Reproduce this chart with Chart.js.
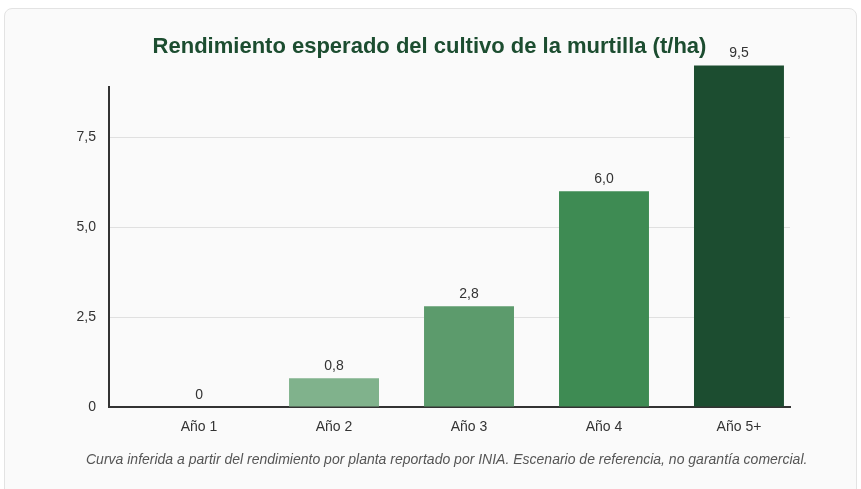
<!DOCTYPE html>
<html>
<head>
<meta charset="utf-8">
<script src="https://cdn.jsdelivr.net/npm/chart.js@4"></script>
<style>
  html, body { margin: 0; padding: 0; background: #fff; }
  body { width: 861px; height: 489px; position: relative; overflow: hidden; font-family: "Liberation Sans", Arial, sans-serif; }
  .card {
    position: absolute; left: 4px; top: 8px; width: 851px; height: 500px;
    border: 1px solid #e3e3e3; border-radius: 8px; background: #fafafa;
  }
  #wrap { position: absolute; left: 0; top: 0; width: 861px; height: 489px; }
  .note {
    position: absolute; left: 86px; top: 451px; white-space: nowrap;
    font-style: italic; font-size: 14px; line-height: 17px; color: #555;
  }
</style>
</head>
<body>
<div class="card"></div>
<div id="wrap"><canvas id="chart"></canvas></div>
<div class="note">Curva inferida a partir del rendimiento por planta reportado por INIA. Escenario de referencia, no garantía comercial.</div>

<script>
// chart data
const years = ['Año 1', 'Año 2', 'Año 3', 'Año 4', 'Año 5+'];
const yieldTonHa = [0, 0.8, 2.8, 6.0, 9.5];
const barColors = ['#80b28c', '#80b28c', '#5c9b6c', '#3e8b53', '#1c4d30'];

// comma decimals like the original ("2,5", "6,0", but "0")
function fmt(v) {
    if (v === 0) return '0';
    return v.toFixed(1).replace('.', ',');
}

// value labels on top of each bar
const valueLabels = {
    id: 'valueLabels',
    afterDatasetsDraw(chart) {
        const ctx = chart.ctx;
        const meta = chart.getDatasetMeta(0);
        ctx.save();
        ctx.font = '14px "Liberation Sans", Arial, sans-serif';
        ctx.fillStyle = '#333';
        ctx.textAlign = 'center';
        ctx.textBaseline = 'middle';
        meta.data.forEach((bar, i) => {
            ctx.fillText(fmt(yieldTonHa[i]), bar.x, bar.y - 12);
        });
        ctx.restore();
    }
};

const ctx = document.getElementById('chart').getContext('2d');
new Chart(ctx, {
    type: 'bar',
    data: {
        datasets: [{
            data: yieldTonHa.map((v, i) => ({ x: i, y: v })),
            backgroundColor: barColors,
            borderWidth: 0,
            categoryPercentage: 0.8,
            barPercentage: 0.833,
            clip: false
        }]
    },
    options: {
        responsive: true,
        maintainAspectRatio: false,
        animation: false,
        layout: { padding: { left: 69, right: 71, top: 0, bottom: 47 } },
        plugins: {
            legend: { display: false },
            tooltip: { enabled: false },
            title: {
                display: true,
                text: 'Rendimiento esperado del cultivo de la murtilla (t/ha)',
                color: '#1c4d30',
                font: { family: '"Liberation Sans", Arial, sans-serif', size: 22, weight: 'bold' },
                padding: { top: 34, bottom: 27 }
            }
        },
        scales: {
            x: {
                type: 'linear',
                offset: false,
                min: -0.667,
                max: 4.378,
                grid: { display: false, offset: false },
                border: { color: '#333', width: 2 },
                ticks: {
                    stepSize: 1,
                    includeBounds: false,
                    autoSkip: false,
                    maxRotation: 0,
                    padding: 4,
                    color: '#333',
                    font: { family: '"Liberation Sans", Arial, sans-serif', size: 14 },
                    callback: v => years[v] || ''
                },
                afterFit: s => { s.height = 35; }
            },
            y: {
                min: 0,
                max: 8.889,
                grid: { color: '#e0e0e0', lineWidth: 1, drawTicks: false },
                border: { color: '#333', width: 2 },
                ticks: {
                    stepSize: 2.5,
                    includeBounds: false,
                    padding: 13,
                    color: '#333',
                    font: { family: '"Liberation Sans", Arial, sans-serif', size: 14 },
                    callback: v => fmt(v)
                },
                afterFit: s => { s.width = 40; }
            }
        }
    },
    plugins: [valueLabels]
});
</script>
</body>
</html>
